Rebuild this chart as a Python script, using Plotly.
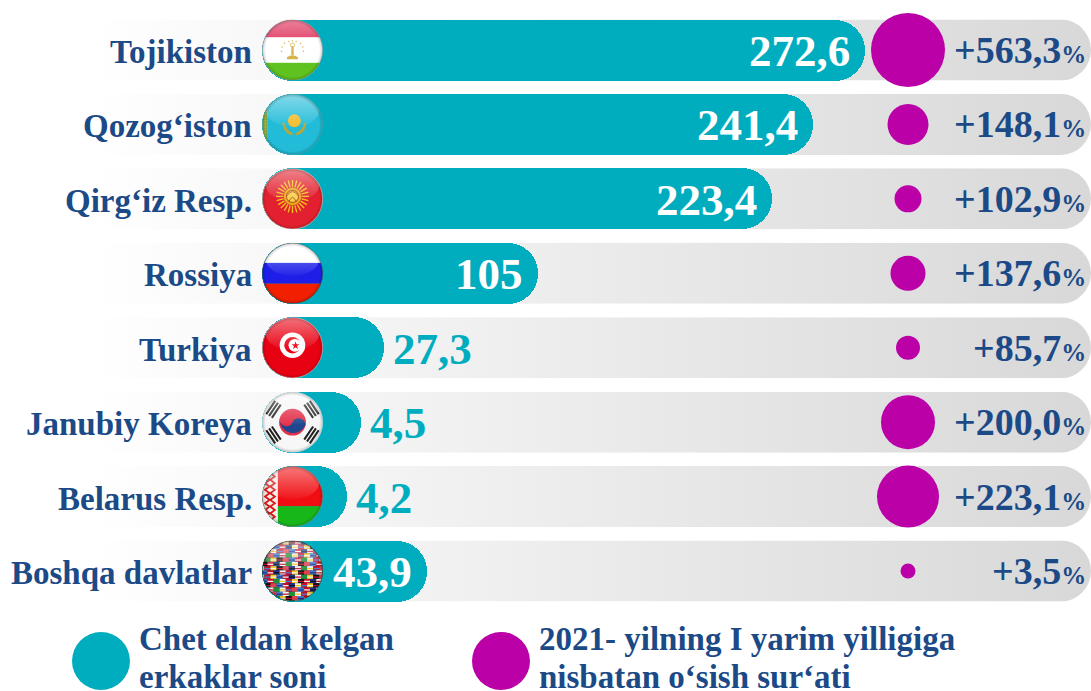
import base64
import plotly.graph_objects as go

W, H = 1091, 691
categories = ["Tojikiston", "Qozog‘iston", "Qirg‘iz Resp.", "Rossiya", "Turkiya",
              "Janubiy Koreya", "Belarus Resp.", "Boshqa davlatlar"]
values = [272.6, 241.4, 223.4, 105, 27.3, 4.5, 4.2, 43.9]
# Lengths of the bars as drawn in the source (it is not strictly to scale)
drawn_values = [273.0, 246.4, 225.5, 106.1, 27.6, 15.8, 8.7, 49.5]
growth = [563.3, 148.1, 102.9, 137.6, 85.7, 200.0, 223.1, 3.5]
dot_diameters = [74, 41, 27, 35, 24, 54, 62, 15]
legend_lines = [["Chet eldan kelgan", "erkaklar soni"],
                ["2021- yilning I yarim yilligiga", "nisbatan o‘sish sur‘ati"]]

TEAL, MAGENTA, NAVY = "#00ADBF", "#BA00A6", "#1B4A87"
SERIF = "Liberation Serif"
X0, XK = 330.0, 1.96            # pixel of value 0, pixels per unit
BASE = (262 - X0) / XK
DOT_X = (908 - X0) / XK
ROW0, STEP, ROWH = 50.0, 74.43, 61


def uri(svg):
    return "data:image/svg+xml;base64," + base64.b64encode(svg.encode()).decode()


def flag(body, edge="#8a8a8a"):
    return uri(f'''<svg xmlns="http://www.w3.org/2000/svg" width="200" height="200" viewBox="0 0 100 100">
<defs><clipPath id="c"><circle cx="50" cy="50" r="49.5"/></clipPath>
<linearGradient id="g" x1="0" y1="0" x2="0" y2="1"><stop offset="0" stop-color="#fff" stop-opacity=".45"/><stop offset="1" stop-color="#fff" stop-opacity=".03"/></linearGradient>
<radialGradient id="e" cx=".5" cy=".5" r=".5"><stop offset=".88" stop-color="#000" stop-opacity="0"/><stop offset="1" stop-color="#000" stop-opacity=".22"/></radialGradient></defs>
<g clip-path="url(#c)">{body}
<ellipse cx="50" cy="27" rx="44" ry="27" fill="url(#g)"/><circle cx="50" cy="50" r="50" fill="url(#e)"/></g>
<circle cx="50" cy="50" r="49.5" fill="none" stroke="{edge}" stroke-width=".8"/></svg>''')


rays = "".join(f'<line x1="50" y1="46" x2="50" y2="{19}" stroke="#F6C21C" stroke-width="2.2" transform="rotate({a} 50 46)"/>' for a in range(0, 360, 15))
tj = ('<rect width="100" height="100" fill="#fff"/><rect width="100" height="29" fill="#DC1F4E"/><rect y="71" width="100" height="29" fill="#5FC21E"/>'
      '<path d="M41 62 Q50 55 59 62 L59 65 L41 65Z M48 44h4v14h-4z" fill="#D8B24A"/><circle cx="50" cy="42" r="3.4" fill="none" stroke="#D8B24A" stroke-width="1.4"/>'
      + "".join(f'<circle cx="{x}" cy="{y}" r="1.3" fill="#D8B24A"/>' for x, y in [(32, 52), (33, 45), (37, 39), (44, 36), (50, 35), (56, 36), (63, 39), (67, 45), (68, 52)]))
kz = ('<rect width="100" height="100" fill="#22BCD8"/><rect width="9" height="100" fill="#A8B83A"/><path d="M3 0v100M7 0v100" stroke="#3C8C5A" stroke-width="1.2" stroke-dasharray="3 2"/>'
      '<circle cx="53" cy="44" r="10.5" fill="#F4BB27"/><path d="M33 48 Q36 66 50 68 L50 64 Q40 60 36 47Z M73 48 Q70 66 56 68 L56 64 Q66 60 70 47Z" fill="#B9A63A"/>')
kg = ('<rect width="100" height="100" fill="#E2202F"/>' + rays +
      '<circle cx="50" cy="46" r="15" fill="#F2A71B" stroke="#B7561B" stroke-width="1.5"/><circle cx="50" cy="46" r="10" fill="#F6D04A" stroke="#B7561B" stroke-width="1.8"/>'
      '<path d="M40 46 Q50 30 60 46 M44 55 Q50 40 56 55" fill="none" stroke="#B7561B" stroke-width="1.6"/>')
ru = '<rect width="100" height="33" fill="#fff"/><rect y="33" width="100" height="34" fill="#1E1EE8"/><rect y="67" width="100" height="33" fill="#F22000"/>'
tn = ('<rect width="100" height="100" fill="#E80013"/><circle cx="50" cy="46" r="21" fill="#fff"/><circle cx="50" cy="46" r="13.5" fill="#E80013"/>'
      '<circle cx="54" cy="46" r="10.5" fill="#fff"/><path d="M55 39.5l1.6 4.8 5-.1-4 3 1.5 4.8-4.1-2.9-4.1 2.9 1.5-4.8-4-3 5 .1z" fill="#E80013"/>')
bars = "".join(f'<path d="M0 0h26M0 5.5h26M0 11h26" stroke="#222" stroke-width="3.4" transform="translate(50 50) rotate({a}) translate(-13 -43)"/>' for a in (-56, 56, 124, 236))
kr = ('<rect width="100" height="100" fill="#F7F7F7"/>' + bars +
      '<circle cx="50" cy="50" r="22" fill="#E3304A"/><path d="M29 45 A11 11 0 0 0 50 50 A11 11 0 0 1 71 55 A22 22 0 0 1 29 45Z" fill="#20468F"/>')
orn = "".join(f'<path d="M13 {y}l8 6-8 6-8-6z" fill="#F3EDE9" stroke="#D81818" stroke-width="3"/>' for y in range(0, 100, 11))
by = '<rect width="100" height="66" fill="#F00E12"/><rect y="66" width="100" height="34" fill="#17B71A"/><rect width="26" height="100" fill="#F3EDE9"/>' + orn
palette = ["#C8102E", "#1B2F8F", "#F2F2F2", "#1E8F3A", "#F2F2F2", "#C8102E", "#F2C81E", "#111111", "#E04050", "#3F7FD0"]
cells = []
k = 0
for r in range(0, 100, 7):
    for c in range(-6, 100, 10):
        cells.append(f'<rect x="{c + (r // 7) % 2 * 5}" y="{r}" width="10" height="7" fill="{palette[k % 10]}"/>')
        cells.append(f'<rect x="{c + (r // 7) % 2 * 5}" y="{r + 3}" width="10" height="2" fill="{palette[(k * 3 + 4) % 10]}"/>')
        k += 3 if k % 7 == 0 else 1
globe = '<rect width="100" height="100" fill="#222"/>' + "".join(cells)
flags = [flag(tj), flag(kz, "#5f9fa8"), flag(kg, "#f4e8d8"), flag(ru, "#444"), flag(tn, "#f6d8d8"), flag(kr, "#ddd"), flag(by), flag(globe, "#333")]

track = uri('''<svg xmlns="http://www.w3.org/2000/svg" width="1003" height="61" viewBox="0 0 1003 61" preserveAspectRatio="none">
<defs><linearGradient id="t"><stop offset="0" stop-color="#fff"/><stop offset=".28" stop-color="#F4F4F5"/><stop offset="1" stop-color="#D8D8D9"/></linearGradient></defs>
<path d="M0 0H973A30 30.5 0 0 1 973 61H0Z" fill="url(#t)"/></svg>''')

rows = list(range(len(categories)))
xp = lambda p: p / W
yp = lambda p: 1 - p / H
centers = [ROW0 + STEP * r for r in rows]

images = []
for r, cy in zip(rows, centers):
    images.append(dict(source=track, xref="paper", yref="paper", x=xp(88), y=yp(cy - ROWH / 2), sizex=1003 / W, sizey=ROWH / H,
                       xanchor="left", yanchor="top", sizing="stretch", layer="below"))
    images.append(dict(source=flags[r], xref="paper", yref="paper", x=xp(262), y=yp(cy - ROWH / 2), sizex=61 / W, sizey=ROWH / H,
                       xanchor="left", yanchor="top", sizing="stretch", layer="above"))

fig = go.Figure()
fig.add_bar(orientation="h", y=rows, x=[v - BASE for v in drawn_values], base=BASE, width=ROWH / STEP,
            marker=dict(color=TEAL, cornerradius=30, line_width=0), showlegend=False, hoverinfo="skip")
fig.add_scatter(x=[DOT_X] * len(rows), y=rows, mode="markers",
                marker=dict(color=MAGENTA, size=dot_diameters, line_width=0, opacity=1), showlegend=False, hoverinfo="skip")


def note(text, x, y, size, color=NAVY, anchor="right", xref="paper", yref="paper", xshift=0, yshift=1):
    return dict(text=text, x=x, y=y, xref=xref, yref=yref, xanchor=anchor, yanchor="middle", xshift=xshift, yshift=yshift,
                showarrow=False, borderpad=0, font=dict(family=SERIF, size=size, color=color))


def b(t):
    return f"<b>{t}</b>"


ann = []
for r, cy in zip(rows, centers):
    ann.append(note(b(categories[r]), xp(253), yp(cy + 3), 33))
    label = b(str(values[r]).replace(".", ","))
    if r <= 3 or r == 7:
        ann.append(note(label, drawn_values[r], r, 45, "#FFFFFF", "right", "x", "y", -14, yshift=-1))
    else:
        ann.append(note(label, drawn_values[r], r, 45, TEAL, "left", "x", "y", 8, yshift=-1))
    ann.append(note(b(f"+{growth[r]:.1f}".replace(".", ",") + '<span style="font-size:25px">%</span>'), xp(1087), yp(cy + 1), 38))

for left, lines in zip((138, 538), legend_lines):
    for y, line in zip((640, 678), lines):
        ann.append(note(b(line), xp(left), yp(y), 33, anchor="left"))

shapes = [dict(type="circle", xref="paper", yref="paper", x0=xp(cx - 29), x1=xp(cx + 29), y0=yp(690), y1=yp(632), fillcolor=c, line_width=0)
          for cx, c in ((101, TEAL), (501, MAGENTA))]

fig.update_layout(width=W, height=H, margin=dict(l=0, r=0, t=0, b=0), paper_bgcolor="#FFFFFF", plot_bgcolor="rgba(0,0,0,0)",
                  xaxis=dict(range=[(0 - X0) / XK, (W - X0) / XK], visible=False, fixedrange=True),
                  yaxis=dict(range=[(H - ROW0) / STEP, (0 - ROW0) / STEP], visible=False, fixedrange=True),
                  images=images, annotations=ann, shapes=shapes, showlegend=False, bargap=0)
fig.write_html("out.html", config=dict(displayModeBar=False),
               post_script="document.body.style.margin='0';document.body.style.overflow='hidden';")
